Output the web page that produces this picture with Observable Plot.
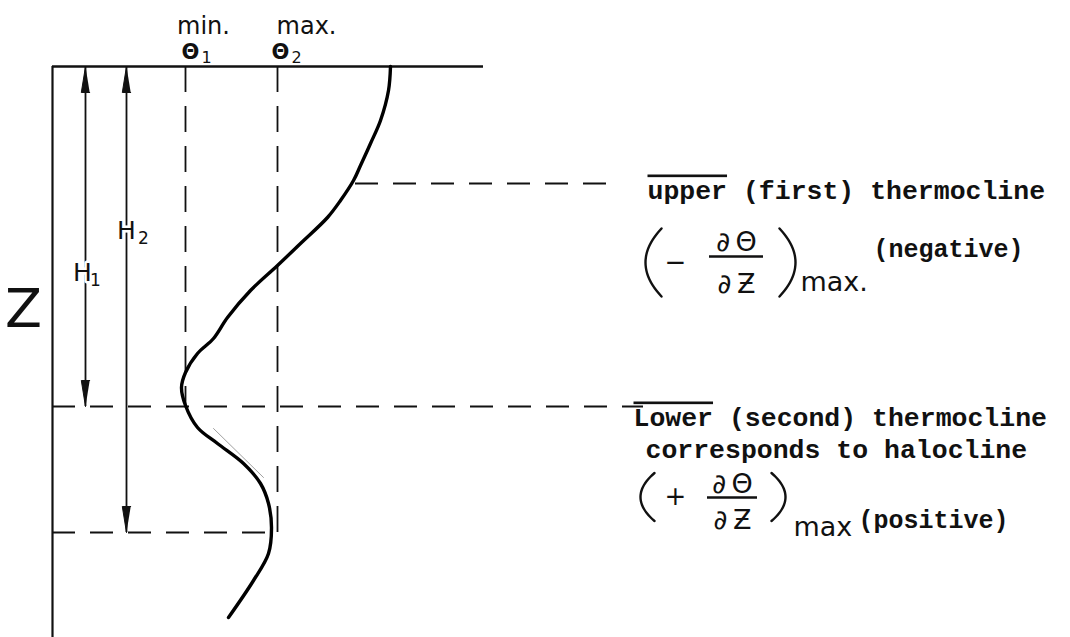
<!DOCTYPE html>
<html><head><meta charset="utf-8">
<script src="https://cdn.jsdelivr.net/npm/d3@7"></script>
<script src="https://cdn.jsdelivr.net/npm/@observablehq/plot@0.6"></script>
<style>html,body{margin:0;padding:0;background:#fff;} #chart svg{display:block}</style>
</head><body><div id="chart"></div>
<script>
// ---- data (diagram units: theta across, depth z downward, surface z = 0) ----
const profileTheta = [33.8, 33.6, 32.8, 31.8, 30.8, 30.1, 28.8, 27.5, 24.8, 22.5, 19.8, 17.5, 16.1, 14.5, 13.3, 12.9, 13.3, 14.5, 16.5, 19.1, 20.8, 21.6, 21.9, 21.6, 20.1, 17.6];
const profileDepth = [0, 2.4, 5.4, 7.7, 9.9, 11.4, 13.4, 15.1, 17.7, 19.9, 22.4, 25.1, 27.2, 28.7, 30.6, 32.1, 33.9, 36.1, 37.7, 39.7, 41.7, 43.7, 46.1, 48.7, 51.4, 55.1];
const strayTheta = [16.1, 21.1];
const strayDepth = [36.2, 41.1];

const thetaMin = 13.3;   // θ1
const thetaMax = 22.5;   // θ2
const depthUpper = 11.7; // upper thermocline
const depthH1 = 34.0;
const depthH2 = 46.6;
const surfaceEnd = 43.1;
const axisBottom = 57.1;

const hGuides = [
  {depth: depthUpper, from: 30.3, to: 56.1},
  {depth: depthH1, from: 0, to: 59.1},
  {depth: depthH2, from: 0, to: 21.9}
];
const vGuides = [
  {theta: thetaMin, to: depthH1},
  {theta: thetaMax, to: depthH2}
];
const depthArrows = [
  {name: "H", sub: "1", theta: 3.3, depth: depthH1, lt: 3.0, ls: 4.3, ld: 21.4},
  {name: "H", sub: "2", theta: 7.4, depth: depthH2, lt: 7.4, ls: 9.1, ld: 17.2}
];
const headerLabels = [
  {text: "min.", theta: 15.1, depth: -3.3},
  {text: "max.", theta: 25.4, depth: -3.3}
];
const thetaLabels = [
  {text: "Θ", sub: "1", theta: 13.8, depth: -0.8},
  {text: "Θ", sub: "2", theta: 22.8, depth: -0.8}
];
const axisLabel = [{text: "Z", theta: -2.9, depth: 24.3}];
const typedLines = [
  {text: "upper (first) thermocline", theta: 59.5, depth: 13.2},
  {text: "Lower (second) thermocline", theta: 58.1, depth: 35.9},
  {text: "corresponds to halocline", theta: 59.3, depth: 39.1}
];
const typedNotes = [
  {text: "(negative)", theta: 82.1, depth: 19.0},
  {text: "(positive)", theta: 80.6, depth: 46.1}
];
// formulas: (∓ ∂θ/∂Z)max
const formulas = [
  {sign: "−", lpTip: 60.9, rpTip: 72.7, bulge: 1.6, mid: 19.6, half: 3.4, sg: 62.3, frac: 68.4, fracHalf: 2.7, num: 18.4, bar: 19.0, den: 22.6, mx: 74.8, mxd: 22.4, sub: "max."},
  {sign: "+", lpTip: 60.2, rpTip: 71.9, bulge: 1.4, mid: 43.05, half: 2.4, sg: 62.3, frac: 68.0, fracHalf: 2.5, num: 42.6, bar: 43.1, den: 46.2, mx: 74.1, mxd: 46.9, sub: "max"}
];

// ---- derived tables ----
const profile = profileTheta.map((t, i) => ({theta: t, depth: profileDepth[i]}));
const stray = strayTheta.map((t, i) => ({theta: t, depth: strayDepth[i]}));
const heads = [];
depthArrows.forEach((a, k) => {
  const L = 2.6, W = 0.42;
  heads.push({g: k + "t", theta: a.theta, depth: 0},
             {g: k + "t", theta: a.theta - W, depth: L},
             {g: k + "t", theta: a.theta + W, depth: L});
  heads.push({g: k + "b", theta: a.theta, depth: a.depth},
             {g: k + "b", theta: a.theta - W, depth: a.depth - L},
             {g: k + "b", theta: a.theta + W, depth: a.depth - L});
});
// parentheses drawn as thin hand-like arcs around each formula
const parens = [];
formulas.forEach((f, k) => {
  for (let i = 0; i <= 12; i++) {
    const t = -1 + i / 6;
    parens.push({g: k + "l", theta: f.lpTip - f.bulge * (1 - t * t), depth: f.mid + f.half * t});
    parens.push({g: k + "r", theta: f.rpTip + f.bulge * (1 - t * t), depth: f.mid + f.half * t});
  }
});

const hand = "DejaVu Sans, sans-serif";
const typed = "Liberation Mono, DejaVu Sans Mono, monospace";

const plot = Plot.plot({
  width: 1070, height: 637,
  margin: 0,
  x: {domain: [-5.2, 101.8], range: [0, 1070], axis: null},
  y: {domain: [-6.6, 57.1], range: [0, 637], axis: null},
  style: {background: "#fff"},
  marks: [
    // axes of the sketch
    Plot.ruleX([0], {y1: 0, y2: axisBottom, stroke: "#111", strokeWidth: 2.2}),
    Plot.ruleY([0], {x1: 0, x2: surfaceEnd, stroke: "#111", strokeWidth: 2.4}),
    // dashed guides
    Plot.ruleY(hGuides, {y: "depth", x1: "from", x2: "to", stroke: "#111", strokeWidth: 2, strokeDasharray: "23,15"}),
    Plot.ruleX(vGuides, {x: "theta", y1: 0, y2: "to", stroke: "#111", strokeWidth: 1.8, strokeDasharray: "26,14"}),
    // depth arrows
    Plot.ruleX(depthArrows, {x: "theta", y1: 0, y2: "depth", stroke: "#111", strokeWidth: 1.8}),
    Plot.line(heads, {x: "theta", y: "depth", z: "g", fill: "#111", stroke: "#111", strokeWidth: 1}),
    // profile
    Plot.line(stray, {x: "theta", y: "depth", stroke: "#888", strokeWidth: 0.8}),
    Plot.line(profile, {x: "theta", y: "depth", curve: "catmull-rom", stroke: "#000", strokeWidth: 3.4}),
    // handwritten labels
    Plot.text(headerLabels, {x: "theta", y: "depth", text: "text", fontFamily: hand, fontSize: 24, lineAnchor: "bottom", fill: "#111"}),
    Plot.text(thetaLabels, {x: "theta", y: "depth", text: "text", fontFamily: hand, fontWeight: "bold", fontSize: 21, lineAnchor: "bottom", fill: "#111"}),
    Plot.text(thetaLabels, {x: (d) => d.theta + 1.6, y: (d) => d.depth + 0.4, text: "sub", fontFamily: hand, fontSize: 16, lineAnchor: "bottom", fill: "#111"}),
    Plot.text(depthArrows, {x: "lt", y: "ld", text: "name", fontFamily: hand, fontSize: 25, lineAnchor: "bottom", fill: "#111", stroke: "#fff", strokeWidth: 5, paintOrder: "stroke"}),
    Plot.text(depthArrows, {x: "ls", y: (d) => d.ld + 0.5, text: "sub", fontFamily: hand, fontSize: 17, lineAnchor: "bottom", fill: "#111"}),
    Plot.text(axisLabel, {x: "theta", y: "depth", text: "text", fontFamily: hand, fontSize: 54, fill: "#111"}),
    // typed annotations
    Plot.text(typedLines, {x: "theta", y: "depth", text: "text", textAnchor: "start", lineAnchor: "bottom", fontFamily: typed, fontWeight: "bold", fontSize: 26.5, fill: "#111"}),
    Plot.text(typedNotes, {x: "theta", y: "depth", text: "text", textAnchor: "start", lineAnchor: "bottom", fontFamily: typed, fontWeight: "bold", fontSize: 25, fill: "#111"}),
    // formulas
    Plot.line(parens, {x: "theta", y: "depth", z: "g", curve: "natural", stroke: "#111", strokeWidth: 2.4}),
    Plot.text(formulas, {x: "sg", y: "mid", text: "sign", fontFamily: hand, fontSize: 26, fill: "#111"}),
    Plot.text(formulas, {x: "frac", y: "num", text: () => "∂\u2009Θ", fontFamily: hand, fontSize: 27, lineAnchor: "bottom", fill: "#111"}),
    Plot.text(formulas, {x: "frac", y: "den", text: () => "∂\u2009Ƶ", fontFamily: hand, fontSize: 27, lineAnchor: "bottom", fill: "#111"}),
    Plot.ruleY(formulas, {y: "bar", x1: (d) => d.frac - d.fracHalf, x2: (d) => d.frac + d.fracHalf, stroke: "#111", strokeWidth: 2.4}),
    Plot.text(formulas, {x: "mx", y: "mxd", text: "sub", textAnchor: "start", lineAnchor: "bottom", fontFamily: hand, fontSize: 27, fill: "#111"})
  ]
});

// overline the first words, as in the typed original
plot.querySelectorAll("text").forEach((t) => {
  const s = t.textContent;
  for (const w of ["upper", "Lower"]) {
    if (s.startsWith(w + " (")) {
      t.textContent = "";
      const ns = "http://www.w3.org/2000/svg";
      const a = document.createElementNS(ns, "tspan");
      a.setAttribute("style", "text-decoration: overline");
      a.textContent = w;
      const b = document.createElementNS(ns, "tspan");
      b.textContent = s.slice(w.length);
      t.append(a, b);
    }
  }
});
document.getElementById("chart").append(plot);
</script>
</body></html>
